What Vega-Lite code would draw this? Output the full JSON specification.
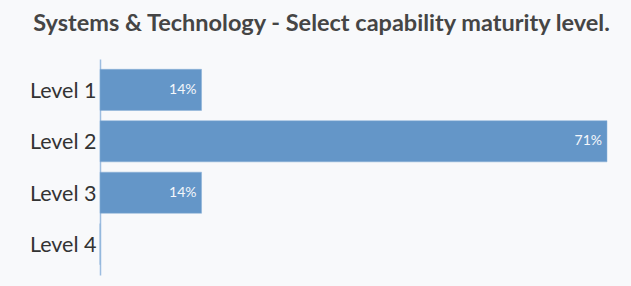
{
  "$schema": "https://vega.github.io/schema/vega-lite/v6.json",
  "width": 507,
  "height": 216,
  "autosize": {"type": "none"},
  "padding": {"left": 100, "top": 59, "right": 24, "bottom": 11},
  "background": "#f8f9fb",
  "title": {
    "text": "Systems & Technology - Select capability maturity level.",
    "font": "Lato",
    "fontSize": 23.5,
    "fontWeight": "bold",
    "color": "#454545",
    "anchor": "middle",
    "dx": -32,
    "offset": 24
  },
  "data": {
    "values": [
      {"level": "Level 1", "pct": 14.3, "label": "14%"},
      {"level": "Level 2", "pct": 71.4, "label": "71%"},
      {"level": "Level 3", "pct": 14.3, "label": "14%"},
      {"level": "Level 4", "pct": 0, "label": ""}
    ]
  },
  "encoding": {
    "y": {
      "field": "level",
      "type": "nominal",
      "sort": null,
      "scale": {"paddingInner": 0.2, "paddingOuter": 0.2},
      "axis": {
        "title": null,
        "ticks": false,
        "grid": false,
        "labelFont": "Lato",
        "labelFontSize": 21.5,
        "labelColor": "#333333",
        "labelPadding": 4,
        "labelOffset": 2,
        "domainColor": "#9dbde0",
        "domainWidth": 1.5
      }
    },
    "x": {
      "field": "pct",
      "type": "quantitative",
      "scale": {"domain": [0, 71.4], "nice": false},
      "axis": null
    }
  },
  "layer": [
    {"mark": {"type": "bar", "color": "#6496c8", "stroke": "#8ab0d8", "strokeWidth": 0.5}},
    {
      "mark": {"type": "text", "align": "right", "dx": -5, "color": "#f4f7fb", "font": "Lato", "fontSize": 14},
      "encoding": {"text": {"field": "label"}}
    }
  ],
  "config": {"view": {"stroke": null}}
}
